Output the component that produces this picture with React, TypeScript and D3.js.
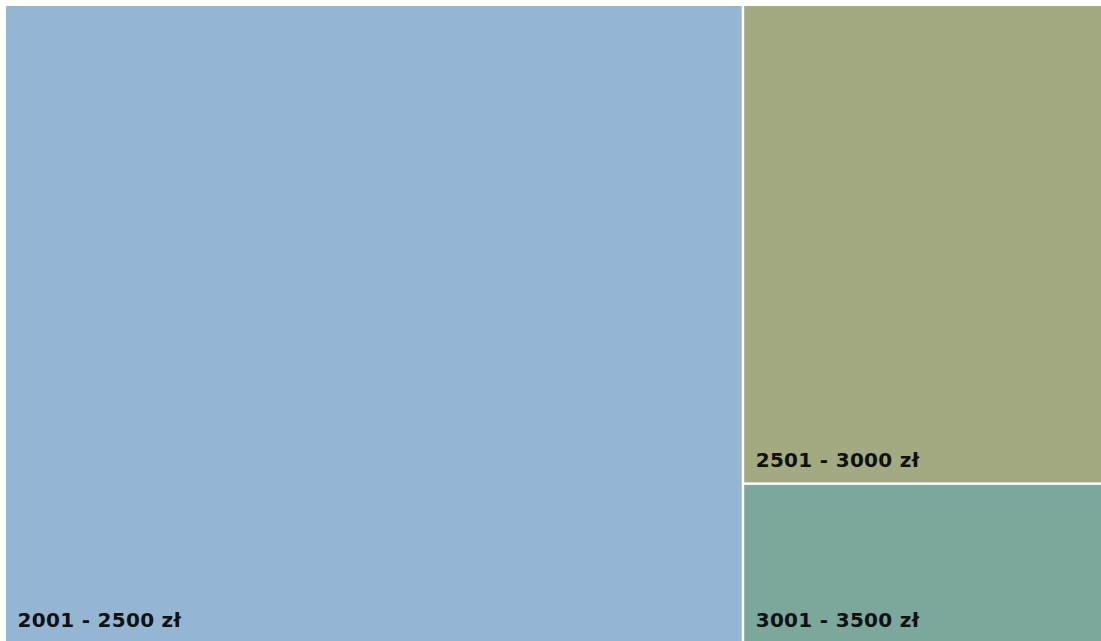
import React from "react";
import * as d3 from "d3";

const categories = ["2001 - 2500 zł", "2501 - 3000 zł", "3001 - 3500 zł"];
const values = [67.2, 24.6, 8.2];
const colors = ["#95B6D3", "#A3AA81", "#7CA79C"];

const W = 1101;
const H = 641;
const X0 = 6;
const Y0 = 6;

export default function App() {
  const data = {
    name: "root",
    children: categories.map((c, i) => ({ name: c, value: values[i], color: colors[i] })),
  };
  const root = d3
    .hierarchy<any>(data)
    .sum((d: any) => d.value || 0)
    .sort((a, b) => (b.value || 0) - (a.value || 0));
  d3
    .treemap<any>()
    .tile(d3.treemapSquarify)
    .size([W - X0 + 1, H - Y0 + 1])
    .paddingInner(2.5)
    .round(false)(root);
  const leaves = root.leaves() as any[];

  return (
    <svg
      width={W}
      height={H}
      style={{ position: "fixed", left: 0, top: 0, background: "#ffffff" }}
    >
      <g transform={`translate(${X0},${Y0})`}>
        {leaves.map((l, i) => (
          <g key={i}>
            <rect
              x={l.x0}
              y={l.y0}
              width={l.x1 - l.x0}
              height={l.y1 - l.y0}
              fill={l.data.color}
            />
            <text
              x={l.x0 + 11.5}
              y={l.y1 - 15}
              fontFamily="'DejaVu Sans', sans-serif"
              fontWeight="bold"
              fontSize={20}
              letterSpacing={0.3}
              fill="#111111"
            >
              {l.data.name}
            </text>
          </g>
        ))}
      </g>
    </svg>
  );
}
